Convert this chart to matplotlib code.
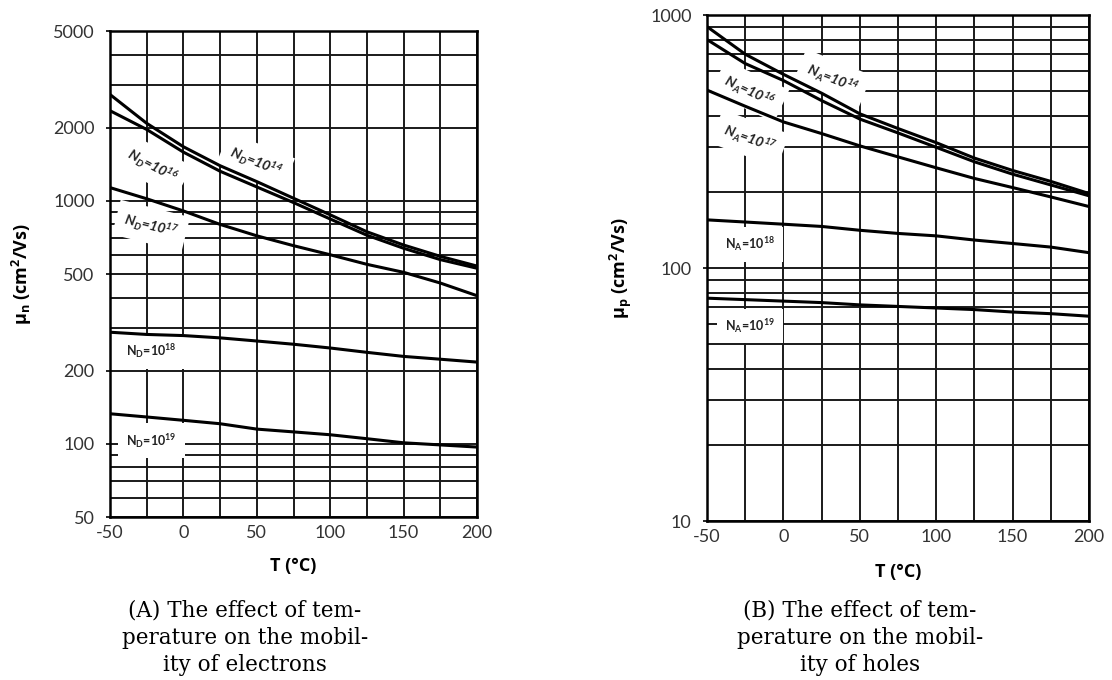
import matplotlib
matplotlib.use("Agg")
import matplotlib.pyplot as plt

# temperature points
T = [-50, -25, 0, 25, 50, 75, 100, 125, 150, 175, 200]

# electrons (cm2/Vs)
mu_n_1e14 = [2740, 2085, 1670, 1395, 1200, 1025, 876, 746, 658, 591, 539]
mu_n_1e16 = [2350, 1967, 1587, 1324, 1141, 984, 842, 722, 638, 573, 528]
mu_n_1e17 = [1134, 1020, 909, 800, 718, 654, 600, 548, 508, 459, 407]
mu_n_1e18 = [288, 282, 279, 273, 265, 257, 248, 238, 229, 223, 217]
mu_n_1e19 = [133, 129, 125, 121, 115, 112, 109, 105, 101, 99, 97]

# holes (cm2/Vs)
mu_p_1e14 = [900, 700, 583, 491, 407, 356, 313, 272, 243, 220, 197]
mu_p_1e16 = [800, 643, 551, 459, 388, 342, 300, 263, 235, 213, 193]
mu_p_1e17 = [505, 436, 378, 340, 304, 275, 249, 226, 208, 191, 175]
mu_p_1e18 = [155, 152, 149, 146, 141, 137, 134, 129, 125, 121, 115]
mu_p_1e19 = [76, 75, 74, 73, 71.5, 70.5, 69.5, 68.5, 67, 66, 64.5]

x_ticks = [-50, 0, 50, 100, 150, 200]
x_grid = [-50, -25, 0, 25, 50, 75, 100, 125, 150, 175, 200]
yn_ticks = [50, 100, 200, 500, 1000, 2000, 5000]
yn_grid = [50, 60, 70, 80, 90, 100, 200, 300, 400, 500, 600, 700, 800, 900,
           1000, 2000, 3000, 4000, 5000]
yp_ticks = [10, 100, 1000]
yp_grid = [10, 20, 30, 40, 50, 60, 70, 80, 90, 100, 200, 300, 400, 500, 600,
           700, 800, 900, 1000]

tick_font = "Lato"
lab_font = "Open Sans"
cap_font = "DejaVu Serif"

fig = plt.figure(figsize=(11.12, 6.8), dpi=100)
axn = fig.add_axes([0.0989, 0.2397, 0.3301, 0.7147])
axp = fig.add_axes([0.6358, 0.2338, 0.3435, 0.7441])


def setup(ax, ylim, yticks, ygrid):
    ax.set_yscale("log")
    ax.set_xlim(-50, 200)
    ax.set_ylim(*ylim)
    for g in x_grid:
        ax.axvline(g, color="#1a1a1a", lw=1.4, zorder=1)
    for g in ygrid:
        ax.axhline(g, color="#1a1a1a", lw=1.4, zorder=1)
    ax.set_xticks(x_ticks)
    ax.set_xticklabels([str(v) for v in x_ticks])
    ax.set_yticks(yticks)
    ax.set_yticklabels([str(v) for v in yticks])
    ax.yaxis.set_minor_locator(matplotlib.ticker.NullLocator())
    ax.tick_params(axis="x", length=0, pad=6, labelsize=13, labelcolor="#333333")
    ax.tick_params(axis="y", length=3, width=1.2, pad=8, labelsize=13,
                   labelcolor="#333333")
    for lbl in ax.get_xticklabels() + ax.get_yticklabels():
        lbl.set_fontfamily(tick_font)
    for s in ax.spines.values():
        s.set_linewidth(1.8)
        s.set_zorder(4)


setup(axn, (50, 5000), yn_ticks, yn_grid)
setup(axp, (10, 1000), yp_ticks, yp_grid)

for ys in [mu_n_1e14, mu_n_1e16, mu_n_1e17, mu_n_1e18, mu_n_1e19]:
    axn.plot(T, ys, color="black", lw=2.2, zorder=3, solid_joinstyle="round")
for ys in [mu_p_1e14, mu_p_1e16, mu_p_1e17, mu_p_1e18, mu_p_1e19]:
    axp.plot(T, ys, color="black", lw=2.2, zorder=3, solid_joinstyle="round")

box = dict(facecolor="white", edgecolor="none", pad=6)


def label(ax, x, y, sub, exp, rot, italic):
    s = "N$_\\mathregular{%s}$=10$^\\mathregular{%s}$" % (sub, exp)
    ax.text(x, y, s, rotation=rot, ha="center", va="center",
            fontsize=10 if italic else 9,
            fontweight="bold", fontstyle="italic" if italic else "normal",
            family=tick_font, color="#222222", bbox=box, zorder=2,
            rotation_mode="anchor")


label(axn, -21, 1400, "D", "16", -28, True)
label(axn, 49, 1450, "D", "14", -22, True)
label(axn, -22, 790, "D", "17", -14, True)
label(axn, -22, 240, "D", "18", 0, False)
label(axn, -22, 103, "D", "19", 0, False)

label(axp, 32, 560, "A", "14", -22, True)
label(axp, -22, 500, "A", "16", -25, True)
label(axp, -22, 325, "A", "17", -20, True)
label(axp, -22, 124, "A", "18", 0, False)
label(axp, -22, 59, "A", "19", 0, False)

axn.set_xlabel("T (°C)", fontsize=13, fontweight="bold", family=lab_font,
               labelpad=11)
axp.set_xlabel("T (°C)", fontsize=13, fontweight="bold", family=lab_font,
               labelpad=13)
axn.set_ylabel("μ$_\\mathregular{n}$ (cm$^\\mathregular{2}$/Vs)", fontsize=13,
               fontweight="bold", family=lab_font, labelpad=14)
axp.set_ylabel("μ$_\\mathregular{p}$ (cm$^\\mathregular{2}$/Vs)", fontsize=13,
               fontweight="bold", family=lab_font, labelpad=12)

fig.text(245 / 1112, 1 - 638 / 680,
         "(A) The effect of tem-\nperature on the mobil-\nity of electrons",
         ha="center", va="center", fontsize=15.5, family=cap_font,
         linespacing=1.3)
fig.text(860 / 1112, 1 - 638 / 680,
         "(B) The effect of tem-\nperature on the mobil-\nity of holes",
         ha="center", va="center", fontsize=15.5, family=cap_font,
         linespacing=1.3)

fig.savefig("out.png", dpi=100, facecolor="white")
